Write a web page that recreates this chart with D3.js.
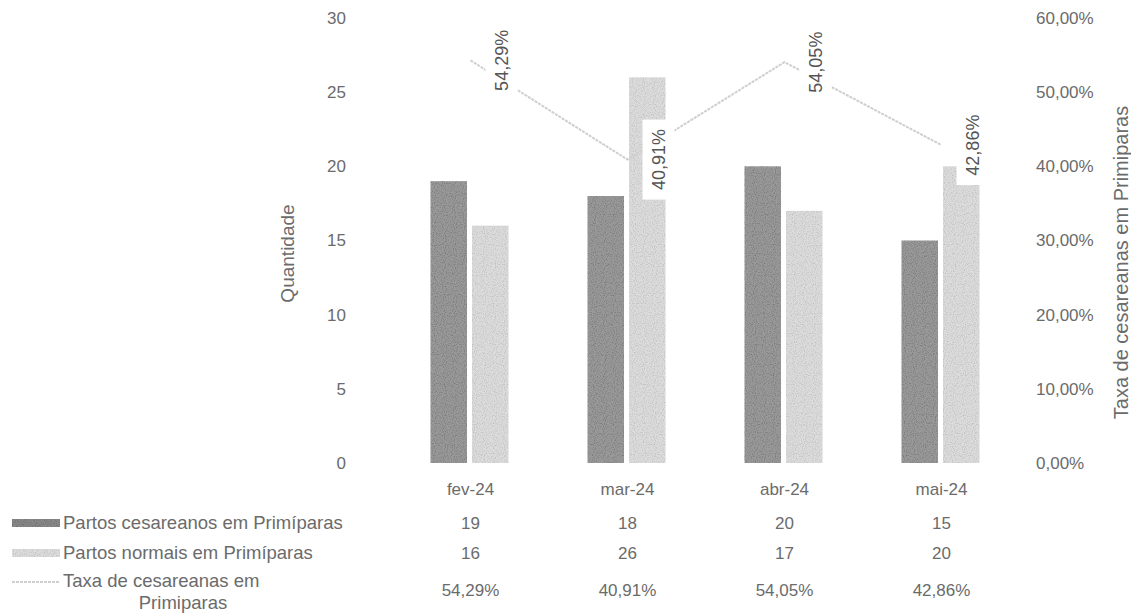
<!DOCTYPE html>
<html><head><meta charset="utf-8">
<script src="https://cdn.jsdelivr.net/npm/d3@7"></script>
<style>
html,body{margin:0;padding:0;background:#fff;}
svg{display:block;font-family:"Liberation Sans",Arial,sans-serif;}
</style></head>
<body><svg id="c" width="1131" height="615"></svg>
<script>
const categories = ["fev-24","mar-24","abr-24","mai-24"];
const cesareanos = [19,18,20,15];
const normais = [16,26,17,20];
const taxa = [0.5429,0.4091,0.5405,0.4286];
const leftTicks = [0,5,10,15,20,25,30];
const rightTicks = [0,0.1,0.2,0.3,0.4,0.5,0.6];
const seriesNames = ["Partos cesareanos em Primíparas","Partos normais em Primíparas","Taxa de cesareanas em Primiparas"];

const svg = d3.select("#c");
const loc = d3.formatLocale({decimal:",",thousands:".",grouping:[3],currency:["R$",""]});
const pct = loc.format(".2%");

const X0 = 392, X1 = 1020, Y0 = 463, Y1 = 18;
const x = d3.scaleBand().domain(categories).range([X0,X1]).paddingInner(0).paddingOuter(0);
const xin = d3.scaleBand().domain([0,1]).range([0,78]).paddingInner(0.12);
const yL = d3.scaleLinear().domain([0,30]).range([Y0,Y1]);
const yR = d3.scaleLinear().domain([0,0.6]).range([Y0,Y1]);

const textCol = "#6b6b6b";

// texture filters
const defs = svg.append("defs");
function grain(id, freq, amt){
  const f = defs.append("filter").attr("id",id).attr("x",0).attr("y",0).attr("width",1).attr("height",1);
  f.append("feTurbulence").attr("type","fractalNoise").attr("baseFrequency",freq).attr("numOctaves",1).attr("seed",3).attr("result","n");
  f.append("feColorMatrix").attr("in","n").attr("type","matrix")
   .attr("values",`0 0 0 0 0  0 0 0 0 0  0 0 0 0 0  ${amt} 0 0 0 ${-amt*0.45}`).attr("result","m");
  f.append("feComposite").attr("in","m").attr("in2","SourceGraphic").attr("operator","in").attr("result","mm");
  const mg = f.append("feMerge");
  mg.append("feMergeNode").attr("in","SourceGraphic");
  mg.append("feMergeNode").attr("in","mm");
}
grain("g1",0.9,1.2);
grain("g2",0.9,0.8);

const darkCol = "#999";
const lightCol = "#dcdcdc";
const lineCol = "#cfcfcf";

// axes
const axL = svg.append("g").attr("transform",`translate(${X0},0)`)
  .call(d3.axisLeft(yL).tickValues(leftTicks).tickSize(0).tickPadding(46));
const axR = svg.append("g").attr("transform",`translate(${X1},0)`)
  .call(d3.axisRight(yR).tickValues(rightTicks).tickSize(0).tickPadding(16).tickFormat(pct));
const axB = svg.append("g").attr("transform",`translate(0,${Y0})`)
  .call(d3.axisBottom(x).tickSize(0).tickPadding(20));
[axL,axR,axB].forEach(a=>{
  a.select(".domain").remove();
  a.selectAll("text").attr("fill",textCol).style("font-size","17px").style("font-family","'Liberation Sans',Arial,sans-serif");
});

// axis titles
svg.append("text").attr("transform",`translate(294,${(Y0+Y1)/2+13}) rotate(-90)`)
  .attr("text-anchor","middle").attr("fill",textCol).style("font-size","19px").text("Quantidade");
svg.append("text").attr("transform",`translate(1128,${(Y0+Y1)/2+22}) rotate(-90)`)
  .attr("text-anchor","middle").attr("fill",textCol).style("font-size","20px").text("Taxa de cesareanas em Primiparas");

// bars
const g = svg.append("g");
g.selectAll(".b1").data(categories).join("rect").attr("class","b1")
  .attr("x",d=>x(d)+x.bandwidth()/2-40+xin(0)).attr("width",xin.bandwidth())
  .attr("y",(d,i)=>yL(cesareanos[i])).attr("height",(d,i)=>Y0-yL(cesareanos[i]))
  .attr("fill",darkCol).attr("filter","url(#g1)");
g.selectAll(".b2").data(categories).join("rect").attr("class","b2")
  .attr("x",d=>x(d)+x.bandwidth()/2-40+xin(1)).attr("width",xin.bandwidth())
  .attr("y",(d,i)=>yL(normais[i])).attr("height",(d,i)=>Y0-yL(normais[i]))
  .attr("fill",lightCol).attr("filter","url(#g2)");

// line
const line = d3.line().x((d,i)=>x(categories[i])+x.bandwidth()/2).y(d=>yR(d));
svg.append("path").datum(taxa).attr("d",line).attr("fill","none")
  .attr("stroke",lineCol).attr("stroke-width",2).attr("stroke-dasharray","3,1");

// data labels
const lab = svg.append("g").selectAll("g").data(taxa).join("g")
  .attr("transform",(d,i)=>`translate(${x(categories[i])+x.bandwidth()/2+31},${yR(d)}) rotate(-90)`);
lab.append("rect").attr("x",-40).attr("y",-16).attr("width",80).attr("height",32).attr("fill","#fff");
lab.append("text").attr("text-anchor","middle").attr("dy","0.35em").attr("fill","#555")
  .style("font-size","18px").text(d=>pct(d));

// data table
const rowsY = [523,553,590];
const tbl = svg.append("g");
const rowVals = [cesareanos.map(String), normais.map(String), taxa.map(pct)];
rowVals.forEach((vals,r)=>{
  tbl.selectAll(".r"+r).data(vals).join("text")
    .attr("x",(d,i)=>x(categories[i])+x.bandwidth()/2).attr("y",rowsY[r]).attr("dy","0.35em")
    .attr("text-anchor","middle").attr("fill",textCol).style("font-size","17px").text(d=>d);
});
// legend keys
const lf = "18.5px";
tbl.append("rect").attr("x",12).attr("y",519).attr("width",48).attr("height",8).attr("fill","#888").attr("filter","url(#g1)");
tbl.append("rect").attr("x",12).attr("y",549).attr("width",48).attr("height",8).attr("fill",lightCol).attr("filter","url(#g2)");
tbl.append("line").attr("x1",12).attr("x2",60).attr("y1",582).attr("y2",582).attr("stroke",lineCol).attr("stroke-width",2).attr("stroke-dasharray","3,1");
tbl.append("text").attr("x",63).attr("y",rowsY[0]).attr("dy","0.35em").attr("fill",textCol).style("font-size",lf).text(seriesNames[0]);
tbl.append("text").attr("x",63).attr("y",rowsY[1]).attr("dy","0.35em").attr("fill",textCol).style("font-size",lf).text(seriesNames[1]);
tbl.append("text").attr("x",63).attr("y",581).attr("dy","0.35em").attr("fill",textCol).style("font-size",lf).text("Taxa de cesareanas em");
tbl.append("text").attr("x",183).attr("y",603).attr("dy","0.35em").attr("text-anchor","middle").attr("fill",textCol).style("font-size",lf).text("Primiparas");
</script></body></html>
